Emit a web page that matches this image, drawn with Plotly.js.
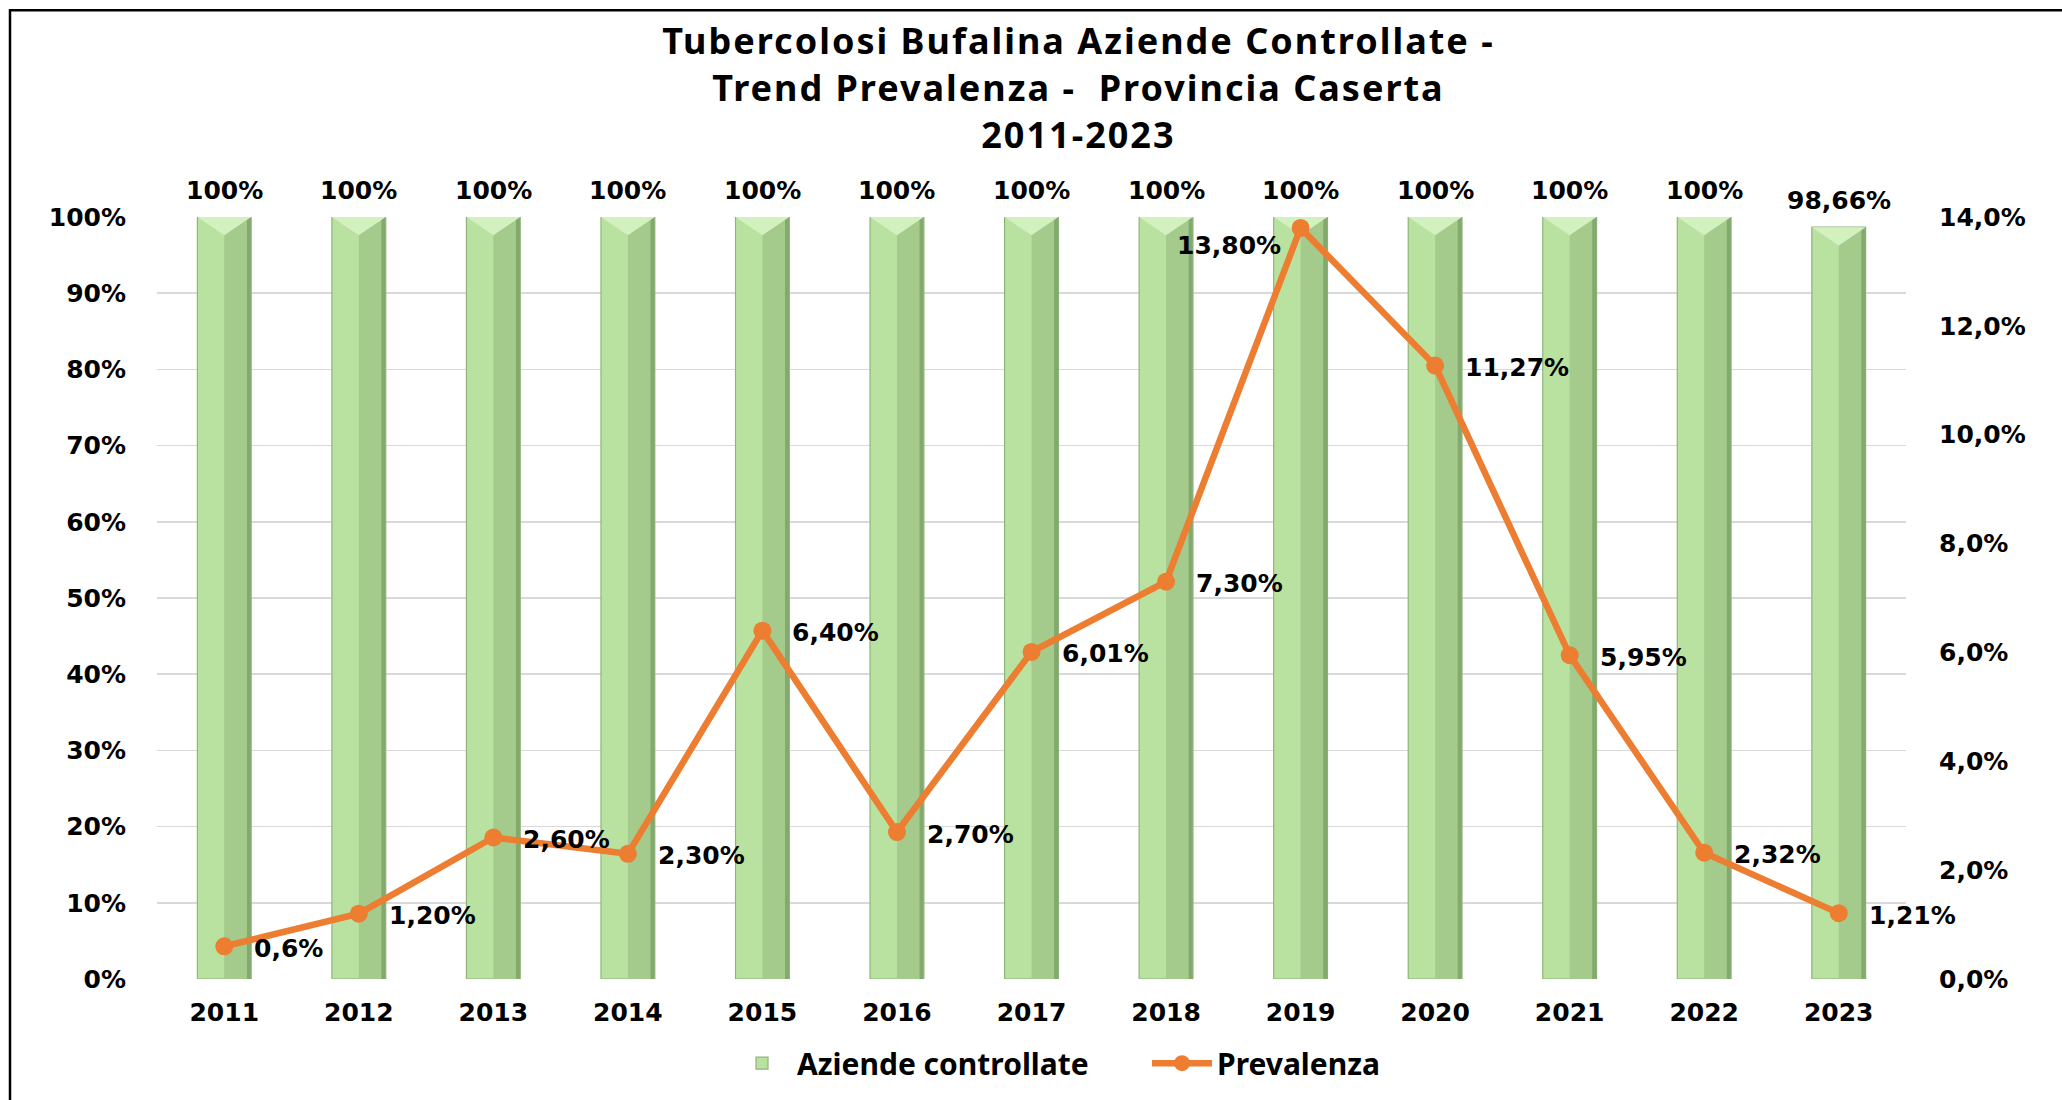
<!DOCTYPE html>
<html>
<head>
<meta charset="utf-8">
<script src="https://cdn.plot.ly/plotly-3.0.1.min.js"></script>
<style>
  html, body { margin: 0; padding: 0; background: #fff; }
  #chart { width: 2062px; height: 1100px; }
  #chart .gtitle { letter-spacing: 2px; }
</style>
</head>
<body>
<div id="chart"></div>
<script>
// ---- data ----
const years = ['2011','2012','2013','2014','2015','2016','2017','2018','2019','2020','2021','2022','2023'];
const aziendeControllate = [1, 1, 1, 1, 1, 1, 1, 1, 1, 1, 1, 1, 0.9866];
const aziendeLabels = ['100%','100%','100%','100%','100%','100%','100%','100%','100%','100%','100%','100%','98,66%'];
const prevalenza = [0.6, 1.2, 2.6, 2.3, 6.4, 2.7, 6.01, 7.3, 13.8, 11.27, 5.95, 2.32, 1.21];
const prevalenzaLabels = ['0,6%','1,20%','2,60%','2,30%','6,40%','2,70%','6,01%','7,30%','13,80%','11,27%','5,95%','2,32%','1,21%'];
const titleLines = ['Tubercolosi Bufalina Aziende Controllate -', 'Trend Prevalenza -  Provincia Caserta', '2011-2023'];

// category positions on the x axis (one slot per year)
const xPos = years.map((_, i) => i);

// ---- styles ----
const labelFont = { family: 'DejaVu Sans, Verdana, sans-serif', size: 25, color: '#000', weight: 'bold' };
const ORANGE = '#ED7D31';
const BAR_HALF = 0.2;      // half bar width in category units
const BEVEL = 0.024;       // depth of the top bevel in axis units

const barMain = {
  type: 'bar', x: xPos, y: aziendeControllate, name: 'Aziende controllate',
  width: 2 * BAR_HALF, offset: -BAR_HALF,
  marker: { color: '#B9E2A0', line: { color: '#8FB47A', width: 1.2 } },
  hoverinfo: 'skip'
};
const barShade = {
  type: 'bar', x: xPos, y: aziendeControllate, showlegend: false,
  width: 0.185, offset: 0.0,
  marker: { color: '#A4CA8C', line: { width: 0 } },
  hoverinfo: 'skip'
};
const barEdge = {
  type: 'bar', x: xPos, y: aziendeControllate, showlegend: false,
  width: 0.03, offset: 0.168,
  marker: { color: '#84A96F', line: { width: 0 } },
  hoverinfo: 'skip'
};
// top bevel highlight of each bar, built from the same values
const bevX = [], bevY = [];
aziendeControllate.forEach((v, i) => {
  bevX.push(xPos[i] - BAR_HALF, xPos[i], xPos[i] + BAR_HALF, xPos[i] - BAR_HALF, null);
  bevY.push(v, v - BEVEL, v, v, null);
});
const bevel = {
  type: 'scatter', mode: 'lines', x: bevX, y: bevY,
  fill: 'toself', fillcolor: '#D3F1BE', line: { width: 0, color: 'rgba(0,0,0,0)' },
  showlegend: false, hoverinfo: 'skip'
};
const line = {
  type: 'scatter', mode: 'lines+markers', x: xPos, y: prevalenza, yaxis: 'y2',
  name: 'Prevalenza',
  line: { color: ORANGE, width: 6.5 },
  marker: { color: ORANGE, size: 18 },
  cliponaxis: false,
  hoverinfo: 'skip'
};

const annotations = [];
xPos.forEach((xp, i) => {
  annotations.push({
    x: xp, y: aziendeControllate[i], xref: 'x', yref: 'y',
    text: aziendeLabels[i], showarrow: false, yanchor: 'bottom', yshift: 10,
    font: labelFont
  });
});
const maxP = Math.max(...prevalenza);
xPos.forEach((xp, i) => {
  const isMax = prevalenza[i] === maxP;
  annotations.push({
    x: xp, y: prevalenza[i], xref: 'x', yref: 'y2',
    text: prevalenzaLabels[i], showarrow: false,
    xanchor: isMax ? 'right' : 'left', yanchor: 'middle',
    xshift: isMax ? -18 : 28, yshift: isMax ? -18 : -2,
    font: labelFont
  });
});

const layout = {
  width: 2062, height: 1100,
  margin: { l: 157, r: 156, t: 217, b: 120 },
  paper_bgcolor: '#fff', plot_bgcolor: '#fff',
  separators: ',.',
  barmode: 'overlay',
  font: labelFont,
  title: {
    text: titleLines.join('<br>'),
    font: { family: 'Noto Sans, Open Sans, sans-serif', size: 36, color: '#000', weight: 'bold' },
    xref: 'container', x: 0.523, xanchor: 'center',
    yref: 'container', y: 1 - 54 / 1100, yanchor: 'top'
  },
  xaxis: {
    type: 'linear', range: [-0.5, xPos.length - 0.5], autorange: false,
    tickmode: 'array', tickvals: xPos, ticktext: years,
    showgrid: false, zeroline: false, showline: false,
    ticks: '', ticklabelstandoff: 16, tickfont: labelFont
  },
  yaxis: {
    range: [0, 1], dtick: 0.1, tickformat: '.0%',
    showgrid: true, gridcolor: '#D9D9D9', gridwidth: 1.5,
    zeroline: false, showline: false, ticks: '', ticklabelstandoff: 30,
    tickfont: labelFont
  },
  yaxis2: {
    range: [0, 14], dtick: 2, tickformat: '.1f', ticksuffix: '%',
    overlaying: 'y', side: 'right', showgrid: false, zeroline: false, showline: false,
    ticks: '', ticklabelstandoff: 32, tickfont: labelFont
  },
  legend: {
    orientation: 'h', x: (727 - 157) / 1749, xanchor: 'left', y: -0.109, yanchor: 'middle',
    font: { family: 'Noto Sans, Open Sans, sans-serif', size: 30, color: '#000', weight: 'bold' },
    itemwidth: 60, traceorder: 'normal', entrywidth: 345
  },
  annotations: annotations,
  shapes: [{
    type: 'rect', xref: 'paper', yref: 'paper',
    x0: (10 - 157) / 1749, x1: (2080 - 157) / 1749,
    y0: (980 - 1120) / 763, y1: (980 - 10) / 763,
    line: { color: '#000', width: 2.5 }, fillcolor: 'rgba(0,0,0,0)', layer: 'above'
  }],
  showlegend: true
};

Plotly.newPlot('chart', [barMain, barShade, barEdge, bevel, line], layout, { displayModeBar: false, staticPlot: true });
</script>
</body>
</html>
